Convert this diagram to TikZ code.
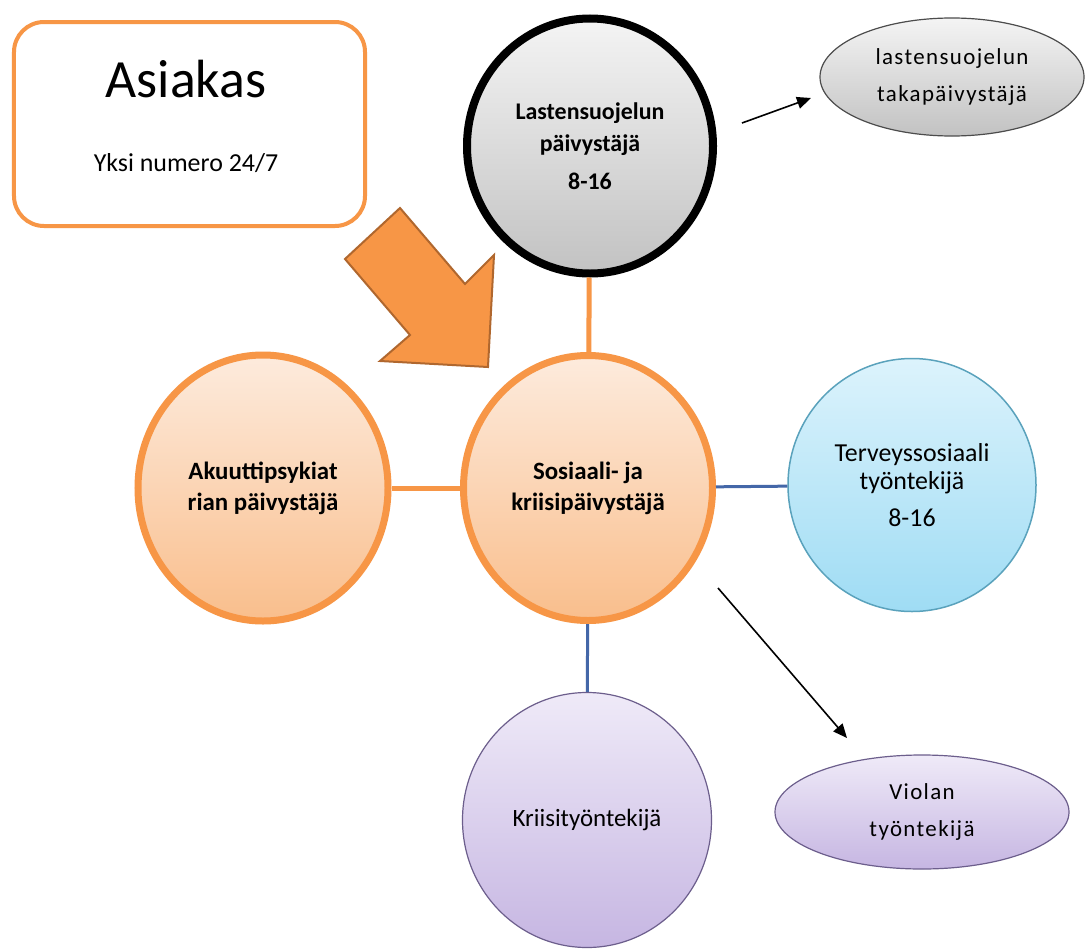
\documentclass[tikz,border=0pt]{standalone}
\usepackage{fontspec}
\setmainfont{Carlito}
\newfontfamily\spacedfont[LetterSpace=6]{Carlito}
\usetikzlibrary{shapes.geometric,arrows.meta}
\definecolor{orangeC}{HTML}{F79646}
\definecolor{arrowEdge}{HTML}{B0672E}
\definecolor{peachT}{HTML}{FDEBDD}
\definecolor{peachB}{HTML}{F9BE8C}
\definecolor{grayT}{HTML}{F4F4F4}
\definecolor{grayB}{HTML}{C2C2C2}
\definecolor{blueT}{HTML}{DCF3FC}
\definecolor{blueB}{HTML}{9FDCF4}
\definecolor{blueEdge}{HTML}{5AA2BC}
\definecolor{purpT}{HTML}{EFEAF8}
\definecolor{purpB}{HTML}{C6B6E2}
\definecolor{purpEdge}{HTML}{6C5E8C}
\definecolor{linkBlue}{HTML}{4467A8}
\tikzset{
  bubble/.style={ellipse, inner sep=0pt, align=center},
  orangecirc/.style={bubble, draw=orangeC, line width=7bp, top color=peachT, bottom color=peachB,
    font=\bfseries\fontsize{25}{31}\selectfont},
  graycirc/.style={bubble, draw=black, line width=8bp, top color=grayT, bottom color=grayB,
    font=\bfseries\fontsize{24}{32}\selectfont},
  bluecirc/.style={bubble, draw=blueEdge, line width=1.5bp, top color=blueT, bottom color=blueB,
    font=\fontsize{26}{29}\selectfont},
  purpcirc/.style={bubble, draw=purpEdge, line width=1.2bp, top color=purpT, bottom color=purpB,
    font=\fontsize{25}{30}\selectfont},
  smallell/.style={bubble, line width=1.2bp, font=\spacedfont\fontsize{23}{37}\selectfont},
  orangelink/.style={draw=orangeC, line width=5bp},
  bluelink/.style={draw=linkBlue, line width=3bp},
  blackarrow/.style={draw=black, line width=1.6bp, -{Triangle[length=14bp,width=12bp]}},
}
\begin{document}
\begin{tikzpicture}[x=1bp,y=-1bp]
\useasboundingbox (0,0) rectangle (1088,949);
\fill[white] (0,0) rectangle (1088,949);

% client box
\node[draw=orangeC, line width=4bp, rounded corners=30bp, fill=white,
      minimum width=351bp, minimum height=204bp, inner sep=0pt] (client) at (189.5,124) {};
\node[anchor=base, font=\fontsize{54}{60}\selectfont, inner sep=0pt] (clientTitle) at (186,97) {Asiakas};
\node[anchor=base, font=\fontsize{26}{30}\selectfont, inner sep=0pt] (clientSub) at (186,171) {Yksi numero 24/7};

% big orange arrow
\filldraw[fill=orangeC, draw=arrowEdge, line width=2bp, line join=miter]
  (400,208) -- (465,284) -- (494,255) -- (488,367) -- (380,361) -- (410,335) -- (345,259) -- cycle;

% circles
\node[graycirc, minimum width=246bp, minimum height=255bp] (top) at (590,146)
  {Lastensuojelun\\päivystäjä\\[6bp]8-16};
\node[orangecirc, minimum width=249bp, minimum height=265bp] (center) at (588,488)
  {Sosiaali- ja\\kriisipäivystäjä};
\node[orangecirc, minimum width=250bp, minimum height=266bp] (left) at (263,488)
  {Akuuttipsykiat\\rian päivystäjä};
\node[bluecirc, minimum width=248bp, minimum height=253bp] (right) at (912,485)
  {Terveyssosiaali\\työntekijä\\[8bp]8-16};
\node[purpcirc, minimum width=249bp, minimum height=255bp] (crisis) at (587,820)
  {Kriisityöntekijä};

% small ellipses
\node[smallell, draw=black!70, top color=grayT, bottom color=grayB,
      minimum width=264bp, minimum height=118bp] (backup) at (952,77)
  {lastensuojelun\\takapäivystäjä};
\node[smallell, draw=purpEdge, top color=purpT, bottom color=purpB,
      minimum width=294bp, minimum height=114bp] (viola) at (922,812)
  {Violan\\työntekijä};

% connectors
\draw[orangelink] (top) -- (center);
\draw[orangelink] (left) -- (center);
\draw[bluelink] (center) -- (right);
\draw[bluelink] (center) -- (crisis);

% free arrows
\coordinate (a1s) at (742,123);
\coordinate (a1e) at (811,98);
\coordinate (a2s) at (718,588);
\coordinate (a2e) at (847,738);
\draw[blackarrow] (a1s) -- (a1e);
\draw[blackarrow] (a2s) -- (a2e);
\end{tikzpicture}
\end{document}
